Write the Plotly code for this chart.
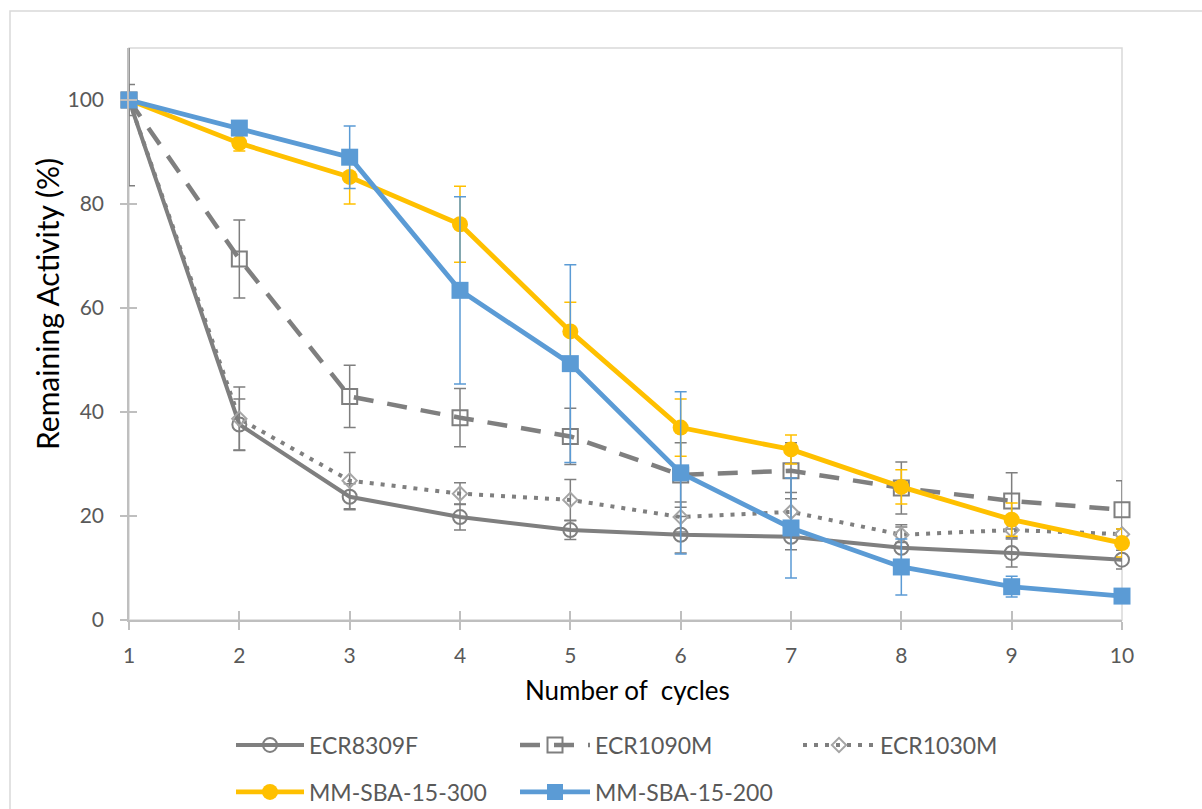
import plotly.graph_objects as go

cycles = [1, 2, 3, 4, 5, 6, 7, 8, 9, 10]

ecr8309f = [100, 37.6, 23.7, 19.8, 17.3, 16.4, 16.0, 13.9, 12.9, 11.6]
ecr8309f_err = [3.0, 4.9, 2.5, 2.5, 1.8, 3.5, 2.5, 4.4, 2.7, 1.8]

ecr1090m = [100, 69.4, 43.0, 38.9, 35.3, 27.9, 28.7, 25.4, 22.9, 21.2]
ecr1090m_err = [0, 7.5, 6.0, 5.6, 5.4, 6.2, 5.4, 5.0, 5.4, 5.6]

ecr1030m = [100, 38.7, 26.8, 24.3, 23.1, 19.8, 20.8, 16.4, 17.3, 16.5]
ecr1030m_err = [16.5, 6.1, 5.4, 2.1, 3.9, 2.9, 3.7, 1.5, 1.5, 1.0]

mm300 = [100, 91.7, 85.2, 76.1, 55.5, 37.0, 32.8, 25.6, 19.3, 14.8]
mm300_err = [0, 1.5, 5.2, 7.3, 5.6, 5.5, 2.8, 3.3, 3.2, 2.7]

mm200 = [100, 94.6, 89.0, 63.4, 49.3, 28.3, 17.7, 10.2, 6.4, 4.6]
mm200_err = [0, 0.8, 6.0, 18.0, 19.0, 15.6, 9.6, 5.4, 2.0, 0.8]

y_ticks = [0, 20, 40, 60, 80, 100]

GRAY = "#7F7F7F"
LGRAY = "#A5A5A5"
YELLOW = "#FFC000"
BLUE = "#5B9BD5"
FONT = "Lato"

series = [
    dict(name="ECR8309F", y=ecr8309f, err=ecr8309f_err, color=GRAY, dash="solid",
         width=4, symbol="circle-open", msize=14, mcolor=GRAY, legend="legend"),
    dict(name="ECR1090M", y=ecr1090m, err=ecr1090m_err, color=GRAY, dash="20px,14px",
         width=4.5, symbol="square-open", msize=15, mcolor=GRAY, legend="legend2"),
    dict(name="ECR1030M", y=ecr1030m, err=ecr1030m_err, color=GRAY, dash="4px,7px",
         width=4, symbol="diamond-open", msize=11, mcolor=LGRAY, legend="legend3"),
    dict(name="MM-SBA-15-300", y=mm300, err=mm300_err, color=YELLOW, dash="solid",
         width=4.8, symbol="circle", msize=16, mcolor=YELLOW, legend="legend4"),
    dict(name="MM-SBA-15-200", y=mm200, err=mm200_err, color=BLUE, dash="solid",
         width=4.8, symbol="square", msize=17, mcolor=BLUE, legend="legend5"),
]

fig = go.Figure()
for s in series:
    filled = not s["symbol"].endswith("open")
    fig.add_trace(go.Scatter(
        x=cycles, y=s["y"], name=s["name"], mode="lines+markers",
        line=dict(color=s["color"], width=s["width"], dash=s["dash"]),
        marker=dict(symbol=s["symbol"], size=s["msize"],
                    color=s["mcolor"],
                    line=dict(color=s["mcolor"], width=0 if filled else 2)),
        error_y=dict(type="data", array=s["err"], visible=True,
                     color=s["color"], thickness=1.5, width=6),
        legend=s["legend"],
        cliponaxis=False,
    ))

# invisible helper trace for overlay axes (inside halves of crossing ticks)
fig.add_trace(go.Scatter(x=[cycles[0]], y=[y_ticks[0]], xaxis="x2", yaxis="y2",
                         mode="markers", marker=dict(opacity=0), showlegend=False,
                         hoverinfo="skip"))

W, H = 1202, 809
L, R, T, B = 129, 80, 48, 189
pw, ph = W - L - R, H - T - B


def px_x(p):
    return (p - L) / pw


def px_y(q):
    return (H - B - q) / ph


tickfont = dict(family=FONT, size=21, color="#595959")

fig.update_layout(
    width=W, height=H,
    margin=dict(l=L, r=R, t=T, b=B, autoexpand=False),
    paper_bgcolor="white", plot_bgcolor="white",
    font=dict(family=FONT, color="#595959"),
    xaxis=dict(range=[1, 10], tickvals=cycles, ticks="outside", ticklen=8,
               tickcolor="#BFBFBF", tickwidth=1.5, showgrid=False, zeroline=False,
               showline=True, linecolor="#BFBFBF", linewidth=1.5,
               tickfont=tickfont, ticklabelstandoff=8),
    yaxis=dict(range=[0, 110], tickvals=y_ticks, ticks="outside", ticklen=7,
               tickcolor="#BFBFBF", tickwidth=1.5, showgrid=False, zeroline=False,
               showline=True, linecolor="#BFBFBF", linewidth=1.5,
               tickfont=tickfont, ticklabelstandoff=12),
    xaxis2=dict(range=[1, 10], tickvals=cycles, ticks="inside", ticklen=9,
                tickcolor="#BFBFBF", tickwidth=1.5, showticklabels=False,
                showgrid=False, zeroline=False, showline=False,
                overlaying="x", anchor="y2", side="bottom"),
    yaxis2=dict(range=[0, 110], tickvals=y_ticks, ticks="inside", ticklen=8,
                tickcolor="#BFBFBF", tickwidth=1.5, showticklabels=False,
                showgrid=False, zeroline=False, showline=False,
                overlaying="y", anchor="x2", side="left"),
    showlegend=True,
)

legend_common = dict(orientation="h", xanchor="left", yanchor="middle",
                     xref="container", yref="container",
                     bgcolor="rgba(0,0,0,0)", borderwidth=0,
                     font=dict(family=FONT, size=23, color="#595959"))
legend_pos = {
    "legend": (231, 745, 68),
    "legend2": (515, 745, 70),
    "legend3": (798, 745, 72),
    "legend4": (231, 792, 68),
    "legend5": (515, 792, 70),
}
for key, (lx, ly, iw) in legend_pos.items():
    fig.update_layout({key: dict(x=lx / W, y=(H - ly) / H, itemwidth=iw,
                                 **legend_common)})

fig.add_annotation(text="Number of  cycles", xref="paper", yref="paper",
                   x=px_x(627), y=px_y(690), showarrow=False,
                   font=dict(family=FONT, size=26, color="#000000"),
                   xanchor="center", yanchor="middle")
fig.add_annotation(text="Remaining Activity (%)", xref="paper", yref="paper",
                   x=px_x(47), y=px_y(304), showarrow=False, textangle=-90,
                   font=dict(family=FONT, size=30, color="#000000"),
                   xanchor="center", yanchor="middle")

# plot-area box and outer chart border
fig.add_shape(type="rect", xref="paper", yref="paper", x0=0, y0=0, x1=1, y1=1,
              line=dict(color="#D9D9D9", width=1.5), layer="below")
fig.add_shape(type="rect", xref="paper", yref="paper",
              x0=px_x(10), y0=px_y(860), x1=px_x(1260), y1=px_y(11),
              line=dict(color="#D9D9D9", width=1.5), layer="below")

fig.write_html("out.html")
